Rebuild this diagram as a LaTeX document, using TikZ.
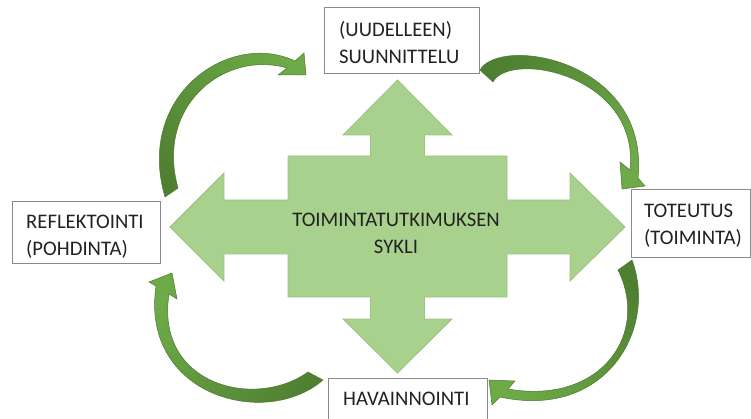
\documentclass[tikz,border=0pt]{standalone}
\usepackage{fontspec}
\setmainfont{Carlito}
\definecolor{crossfill}{HTML}{A9D18E}
\definecolor{crossline}{HTML}{9CC481}
\definecolor{arrdark}{HTML}{4F7F31}
\definecolor{arrlight}{HTML}{6EAA48}
\definecolor{arredge}{HTML}{4A7A2E}
\definecolor{boxline}{HTML}{8A8A8A}
\definecolor{txt}{HTML}{222222}
\begin{document}
\begin{tikzpicture}[x=1pt,y=-1pt,
  lbl/.style={font=\fontsize{20.7}{27.7}\selectfont, text=txt, inner sep=0pt, align=left},
  stagebox/.style={draw=boxline, line width=1pt, fill=white, inner sep=0pt, anchor=north west},
  cross/.style={fill=crossfill, draw=crossline, line width=0.8pt},
  cyclearrow/.style={draw=arredge, line width=0.5pt, top color=arrlight, bottom color=arrdark}]
\useasboundingbox (0,0) rectangle (751,419);
\clip (0,0) rectangle (751,419);
% central cross
\path[cross] (397.5,80) -- (452,135) -- (424.5,135) -- (424.5,156) -- (507,156) -- (507,200)
  -- (570,200) -- (570,173) -- (625,227) -- (570,281) -- (570,254) -- (507,254)
  -- (507,297) -- (424.5,297) -- (424.5,319) -- (452,319) -- (397.5,373) -- (343,319)
  -- (370.5,319) -- (370.5,297) -- (288,297) -- (288,254) -- (224,254) -- (224,281)
  -- (170,227) -- (224,173) -- (224,200) -- (288,200) -- (288,156) -- (370.5,156)
  -- (370.5,135) -- (343,135) -- cycle;
\node[lbl, align=center, anchor=base] (cycletxt) at (396,254) {TOIMINTATUTKIMUKSEN\\SYKLI};
% stage boxes
\node[stagebox, minimum width=155pt, minimum height=66pt] (plan) at (324,7) {};
\node[stagebox, minimum width=119pt, minimum height=68pt] (act) at (631,189) {};
\node[stagebox, minimum width=148pt, minimum height=62pt] (refl) at (12,201) {};
\node[stagebox, minimum width=159pt, minimum height=60pt] (obs) at (328,378) {};
\node[lbl, anchor=base west] (plantxt) at (339,64) {(UUDELLEEN)\\SUUNNITTELU};
\node[lbl, anchor=base west] (acttxt) at (644,245) {TOTEUTUS\\(TOIMINTA)};
\node[lbl, anchor=base west] (refltxt) at (26,256) {REFLEKTOINTI\\(POHDINTA)};
\node[lbl, anchor=base west] (obstxt) at (343,405) {HAVAINNOINTI};
% curved arrows
\path[cyclearrow, shading angle=-48] (165,197) .. controls (135,95) and (230,30) .. (295,61)
  -- (304,53) -- (306,75) -- (278,75) -- (287,68)
  .. controls (225,50) and (155,105) .. (178,188) -- cycle;
\path[cyclearrow, shading angle=-126] (480,70) .. controls (500,35) and (650,60) .. (638,178)
  -- (645,186) -- (622,189) -- (620,162) -- (630,170)
  .. controls (640,75) and (510,50) .. (493,82) -- cycle;
\path[cyclearrow, shading angle=134] (632,260) .. controls (658,330) and (605,420) .. (500,397)
  -- (492,405) -- (489,380) -- (515,381) -- (508,389)
  .. controls (600,405) and (650,335) .. (618,270) -- cycle;
\path[cyclearrow, shading angle=57] (323,380) .. controls (265,430) and (140,395) .. (156,286)
  -- (149,282) -- (172,273) -- (177,299) -- (169,294)
  .. controls (155,385) and (255,410) .. (308,372) -- cycle;
\end{tikzpicture}
\end{document}
